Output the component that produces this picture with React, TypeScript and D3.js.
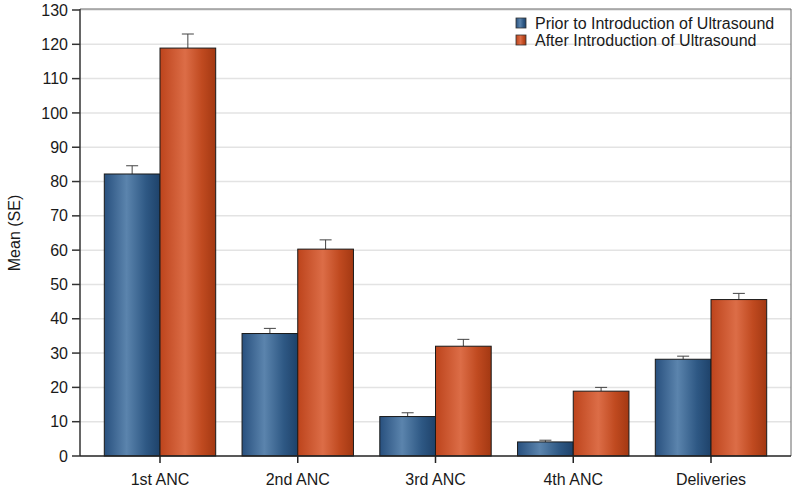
import React from "react";
import * as d3 from "d3";

const categories = ["1st ANC", "2nd ANC", "3rd ANC", "4th ANC", "Deliveries"];
const seriesNames = ["Prior to Introduction of Ultrasound", "After Introduction of Ultrasound"];
const priorMean = [82.2, 35.7, 11.5, 4.1, 28.2];
const priorSE = [2.4, 1.5, 1.1, 0.5, 0.9];
const afterMean = [118.9, 60.3, 32.0, 18.9, 45.6];
const afterSE = [4.1, 2.7, 2.0, 1.1, 1.8];
const yTicks = [0, 10, 20, 30, 40, 50, 60, 70, 80, 90, 100, 110, 120, 130];

const W = 796;
const H = 489;
const left = 80;
const right = 791;
const top = 10;
const bottom = 456;
const FONT = "'Liberation Sans', Arial, sans-serif";
const FS = 16;

export default function App() {
  const x = d3.scalePoint<string>().domain(categories).range([left, right]).padding(80 / 137.75);
  const y = d3.scaleLinear().domain([0, 130]).range([bottom, top]);
  const bw = 55.7;
  const series = [
    { name: seriesNames[0], mean: priorMean, se: priorSE, grad: "gBlue", off: -bw },
    { name: seriesNames[1], mean: afterMean, se: afterSE, grad: "gOrange", off: 0 },
  ];
  return (
    <svg width={W} height={H} style={{ position: "absolute", left: 0, top: 0, background: "#fff" }}>
      <defs>
        <linearGradient id="gBlue" x1="0" x2="1" y1="0" y2="0">
          <stop offset="0" stopColor="#28507e" />
          <stop offset="0.4" stopColor="#5b84ad" />
          <stop offset="0.75" stopColor="#2e5884" />
          <stop offset="1" stopColor="#1e426a" />
        </linearGradient>
        <linearGradient id="gOrange" x1="0" x2="1" y1="0" y2="0">
          <stop offset="0" stopColor="#bd441c" />
          <stop offset="0.45" stopColor="#dc6d47" />
          <stop offset="0.75" stopColor="#c04a20" />
          <stop offset="1" stopColor="#a33812" />
        </linearGradient>
      </defs>
      {yTicks.map((t) =>
        t > 0 ? (
          <line key={"g" + t} x1={left} x2={right} y1={y(t)} y2={y(t)} stroke="#e3e3e3" strokeWidth={1.5} />
        ) : null
      )}
      <line x1={left} x2={right} y1={top - 1} y2={top - 1} stroke="#666" strokeWidth={1} />
      <line x1={right} x2={right} y1={top - 1} y2={bottom} stroke="#666" strokeWidth={1} />
      {series.map((s, si) =>
        categories.map((c, i) => {
          const x0 = (x(c) as number) + s.off;
          const yt = y(s.mean[i]);
          const ye = y(s.mean[i] + s.se[i]);
          const cx = x0 + bw / 2;
          return (
            <g key={si + "-" + i}>
              <line x1={cx} x2={cx} y1={yt} y2={ye} stroke="#444" strokeWidth={1} />
              <line x1={cx - 6} x2={cx + 6} y1={ye} y2={ye} stroke="#444" strokeWidth={1} />
              <rect x={x0} y={yt} width={bw} height={bottom - yt} fill={`url(#${s.grad})`} stroke="#1a1a1a" strokeWidth={1} />
            </g>
          );
        })
      )}
      <line x1={left} x2={left} y1={top - 1} y2={bottom} stroke="#333" strokeWidth={1.5} />
      <line x1={left} x2={right} y1={bottom} y2={bottom} stroke="#222" strokeWidth={1.5} />
      {yTicks.map((t) => (
        <g key={"t" + t}>
          <line x1={left - 8} x2={left} y1={y(t)} y2={y(t)} stroke="#333" strokeWidth={1.5} />
          <text x={left - 12} y={y(t)} dy="0.35em" textAnchor="end" fontFamily={FONT} fontSize={FS} fill="#1a1a1a">
            {t}
          </text>
        </g>
      ))}
      {categories.map((c) => (
        <g key={"c" + c}>
          <line x1={x(c)} x2={x(c)} y1={bottom} y2={bottom + 7} stroke="#222" strokeWidth={1.5} />
          <text x={x(c)} y={485} textAnchor="middle" fontFamily={FONT} fontSize={FS} fill="#1a1a1a">
            {c}
          </text>
        </g>
      ))}
      <text
        transform={`translate(20,${(top + bottom) / 2}) rotate(-90)`}
        textAnchor="middle"
        fontFamily={FONT}
        fontSize={FS}
        fill="#1a1a1a"
      >
        Mean (SE)
      </text>
      {series.map((s, si) => (
        <g key={"l" + si} transform={`translate(516,${18 + si * 17})`}>
          <rect x={0} y={0} width={10} height={10} fill={`url(#${s.grad})`} stroke="#333" strokeWidth={0.8} />
          <text x={19} y={11} fontFamily={FONT} fontSize={FS} fill="#1a1a1a">
            {s.name}
          </text>
        </g>
      ))}
    </svg>
  );
}
